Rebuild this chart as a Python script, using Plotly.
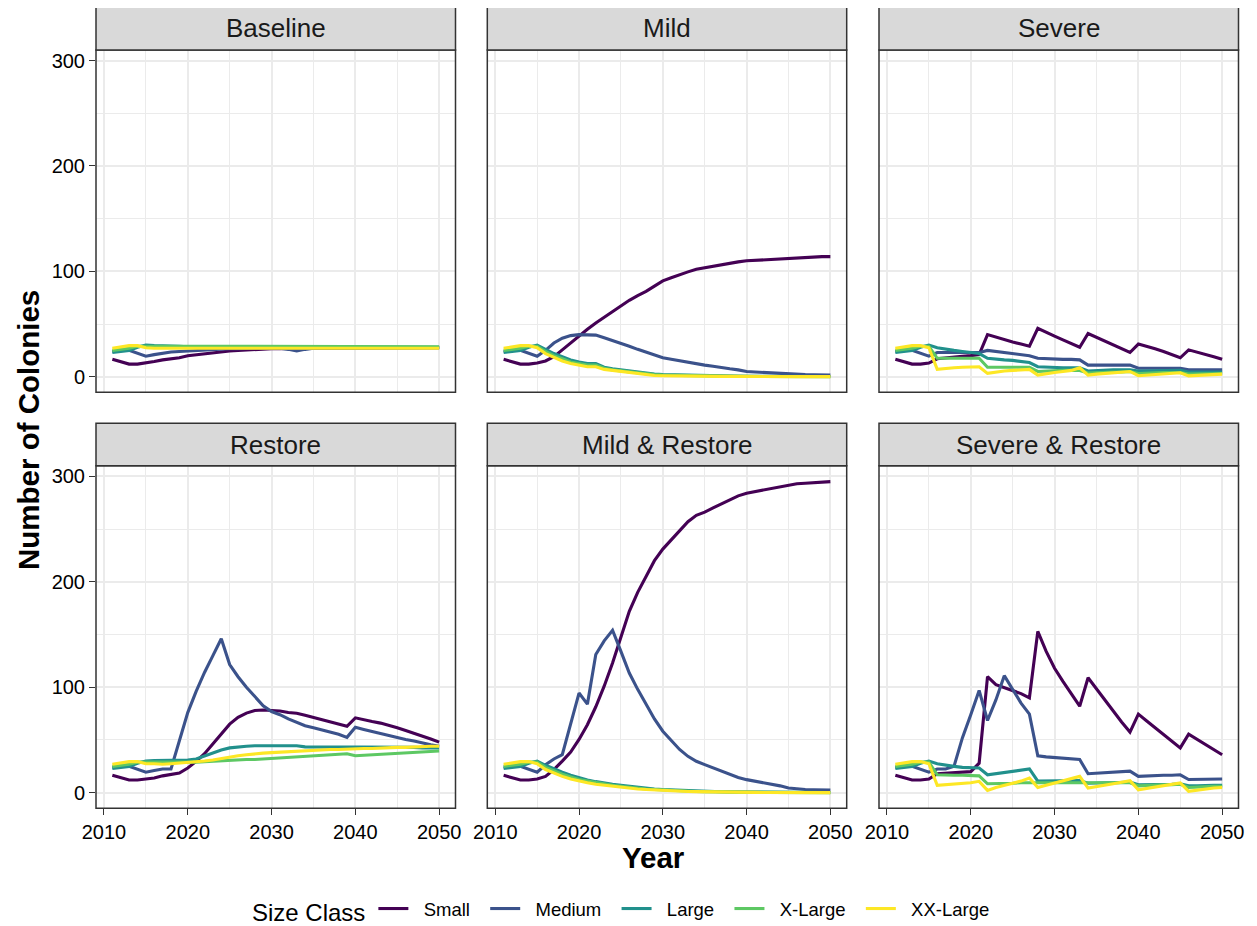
import plotly.graph_objects as go

years = list(range(2011, 2051))
size_classes = ["Small", "Medium", "Large", "X-Large", "XX-Large"]
colors = ["#440154", "#3B528B", "#21908C", "#5DC863", "#FDE725"]
scenarios = ["Baseline", "Mild", "Severe", "Restore", "Mild & Restore", "Severe & Restore"]

# ---------------- data ----------------
baseline_small = [16.5,14,12,12,13, 14.5,16,17,18,20, 21,22,23,24,24.5, 25,25.5,26,26,26.5,
                  26.5,27,27,27,27, 27,27,27,27,27.5, 27.5,27.5,27.5,27.5,27.5, 27.5,27.5,27.5,27.5,27.5]
baseline_medium = [24,25,25,22,19.5, 21,22.5,23.5,24,24.5, 25,25.5,26,26,26.5, 26.5,27,27,27,27,
                   27,26,24.5,26,27, 27,27,27,27,27.5, 27.5,27.5,27.5,27.5,27.5, 27.5,27.5,27.5,27.5,27.5]
baseline_large = [23,24,25,28,30, 29.5,29.5,29,29,28.5, 28.5,28.5,28.5,28.5,28, 28,28,28,28,28,
                  28,28,28,28,28, 28,28,28,28,28, 28,28,28,28,28, 28,28,28,28,28]
baseline_xlarge = [25,26,27,29,29, 29,29,28.5,28.5,28.5, 28.5,28.5,28.5,28.5,28.5, 28.5,28.5,28.5,28.5,28.5,
                   28.5,28.5,28.5,28.5,28.5, 28.5,28.5,28.5,28.5,28.5, 28.5,28.5,28.5,28.5,28.5, 28.5,28.5,28.5,28.5,28.5]
baseline_xxlarge = [27,28,29.5,29.5,27.5, 27,27,27,27,27, 27,27,27,27,27, 27,27,27,27,27,
                    27,27,27,27,27, 27,27,27,27,27, 27,27,27,27,27, 27,27,27,27,27]

mild_small = [16.5,14,12,12,13, 15,19,25.5,32,39, 45,51,56.5,62,67.5, 72.5,77,81,86,91,
              94,97,99.5,102,103.5, 105,106.5,107.5,109,110, 110.5,111,111.5,112,112.5, 113,113.5,113.5,114,114]
mild_medium = [24,25,25,22,19.5, 25,32,36.5,39,40, 40,39.5,37,34.5,32, 29,26,23.5,21,18,
               16.5,15,13.5,12,11, 10,8.5,7.5,6.5,5, 4.5,4,3.5,3,2.5, 2,2,1.8,1.6,1.5]
mild_large = [23,24,25,28,30, 26,22,19,16,14, 12.5,12.5,9,7.5,6.5, 5,4,3,2.5,2,
              1.8,1.5,1.3,1,1, 0.8,0.7,0.6,0.5,0.5, 0.4,0.4,0.3,0.3,0.3, 0.3,0.2,0.2,0.2,0.2]
mild_xlarge = [25,26,27,29,29, 24,20,17,14,12.5, 11,11,8,6.5,5.5, 4.5,3.5,2.5,2,1.5,
               1.3,1.1,1,0.8,0.7, 0.6,0.5,0.4,0.4,0.3, 0.3,0.3,0.2,0.2,0.2, 0.2,0.1,0.1,0.1,0.1]
mild_xxlarge = [27,28,29.5,29.5,27.5, 22,18.5,15,12.5,11, 9.5,9.5,7,6,5, 4,3,1.5,1.2,1,
                0.8,0.7,0.6,0.5,0.5, 0.4,0.3,0.3,0.2,0.2, 0.2,0.1,0.1,0.1,0.1, 0.1,0.1,0.1,0.1,0.1]

severe_small = [16.5,14,12,12,13, 17,18,19,19.5,20, 21,40,37.5,35.5,33, 31,29,46,42,38.5,
                35,31.5,28,41,37.5, 34,30,26.5,23,31, 29,26.5,24,21,18, 25.5,23.5,21,19,16.5]
severe_medium = [24,25,25,22,19.5, 23,23,23,23,23, 23,25,24,23,22, 21,20,17.5,17,17,
                 16.5,16.5,16,11,11, 11,11,11,11,8, 8,8,8,8,8, 6.5,6.5,6.5,6.5,6.5]
severe_large = [23,24,25,28,30, 27.5,26,25,24,23, 22,17.5,16.5,16,15.5, 14.5,13.5,9.5,9,9,
                8.5,8.5,8.5,5.5,6, 6,6.5,6.5,6.5,5.5, 5.5,5.5,6,6,6, 4.5,4.5,4.5,4.5,4.5]
severe_xlarge = [25,26,27,29,29, 17.5,17.5,17.5,17.5,17.5, 17.5,9,9,9,9, 9,9,5,5.5,6,
                 6,6,6,3.5,4, 4,4.5,4.5,5,3, 3.5,3.5,4,4,4, 2.5,2.5,3,3,3]
severe_xxlarge = [27,28,29.5,29.5,27.5, 7,8,8.5,9,9, 9.5,3.2,4.5,5.5,6, 6.5,7,1.6,3,4,
                  5,6,8.5,1.6,2.5, 3,3.5,4,5,1, 1.5,2,2.5,3,3.8, 0.8,1.2,1.7,2.1,2.5]

restore_small = [16.5,14,12,12,13, 14,16,17,18.7,23.4, 29.7,37,46.5,56,65, 71.5,75.5,78,78.5,78,
                 77.5,76,75.3,73.5,71.5, 69.5,67.5,65.5,63,71, 69,67.5,66,64,61.5, 59,56.5,54,51,48]
restore_medium = [24,25,25,22,19.5, 21,22.5,22.5,50,76, 96,114,130,146,121.5, 110,100,91.5,82.5,77,
                  74,70,67,63.5,61.5, 59.5,57.5,55.5,52.5,62, 60,58,56,54,52, 50.5,49,47,45.5,44]
restore_large = [23,24,25,28,30, 30.5,30.5,30.5,30.5,31, 32,35,38,40.5,42.5, 43.5,44,44.5,44.5,44.5,
                 44.5,44.5,44.5,43.5,43.5, 43.5,43.5,43.5,43.5,43.5, 43.5,43.5,43.5,43.5,43, 43,43,42.5,42.5,42.5]
restore_xlarge = [25,26,27,29,29, 28.5,28.5,28.5,28.5,28.5, 29,29.5,30,30.5,30.5, 31,31.5,31.5,32,32.5,
                  33,33.5,34,34.5,35, 35.5,36,36.5,37,35, 35.5,36,36.5,37,37, 37.5,38,38.5,39,39.5]
restore_xxlarge = [27,28,29.5,29.5,27.5, 27.5,27,27.5,28,28.5, 29,30,31,32.5,34, 35,36,37,37.5,38,
                   38.5,39,39.5,40,40, 40.5,41,41,41.5,41.5, 42,42,42.5,42.5,43, 43,43.5,43.5,44,44]

mildres_small = [16.5,14,12,12,13, 15.5,22,30,38.5,50.5, 64.5,81.5,101,123,147, 172,190,205.5,220,231,
                 239.5,248,257,263,266, 270,274,278,281.5,284, 285.5,287,289,290.5,292, 293,293.5,294,294.5,295]
mildres_medium = [24,25,25,22,19.5, 26.5,32,36,66,94.5, 84,131,144,154,134, 113.5,98,83.5,70,58.3,
                  49.7,41,34.5,29.8,26.6, 23.5,20.5,17.5,14.5,12.4, 11,9.5,8,6.5,4.4, 3.5,3,2.8,2.5,2.5]
mildres_large = [23,24,25,28,30, 26,22.5,19.5,16.5,14, 12,10.5,9,8,7, 6,5,4,3.5,3,
                 2.6,2.2,1.8,1.5,1.2, 1,0.9,0.8,0.7,0.6, 0.5,0.4,0.4,0.3,0.3, 0.3,0.2,0.2,0.2,0.2]
mildres_xlarge = [25,26,27,29,29, 24,20.5,17.5,15,12.5, 11,9.5,8,7,6, 5,4.2,3.5,3,2.5,
                  2.1,1.8,1.5,1.2,1, 0.8,0.7,0.6,0.5,0.4, 0.4,0.3,0.3,0.2,0.2, 0.2,0.2,0.1,0.1,0.1]
mildres_xxlarge = [27,28,29.5,29.5,27.5, 22,18.5,15.5,13,11, 9.5,8,7,6,5, 4,3.5,3,2.5,2,
                   1.7,1.4,1.2,1,0.8, 0.7,0.6,0.5,0.4,0.3, 0.3,0.2,0.2,0.2,0.1, 0.1,0.1,0.1,0.1,0.1]

sevres_small = [16.5,14,12,12,13, 18,18.5,19,19.5,20, 28,110,102.5,99.5,97, 94,90,153,134,118,
                105.5,93.5,82,109,98.5, 87.5,77,67,57.5,74.5, 68,61.5,55,48.5,42.5, 55.5,50.5,45.5,40.5,36]
sevres_medium = [24,25,25,22,19.5, 22.5,22.5,25,52,74, 97,68.5,88,111,98, 85,74.5,35,34,33.5,
                 33,32.5,31.5,18,18.5, 19,19.5,20,20.5,15.5, 16,16,16.5,16.5,17, 12.5,12.5,13,13,13]
sevres_large = [23,24,25,28,30, 27.5,26,25,24,23.5, 23.5,17,18,19,20, 21.5,22.5,11,11,11.5,
                11.5,11.5,11.5,9,9.5, 9.5,9.5,9.5,10,7.5, 7.5,8,8,8,8.5, 6.5,6.5,7,7,7]
sevres_xlarge = [25,26,27,29,29, 17,16.5,16.5,16.5,16.5, 16,8.5,8.5,9,9, 9.5,9.5,10,10,10,
                 10,10,10,9.5,9.5, 9.5,9.5,9.5,9.5,6.5, 7,7,7.5,7.5,8, 5,5.5,5.5,6,6]
sevres_xxlarge = [27,28,29.5,29.5,27.5, 7,7.5,8,9,9.5, 10.8,2.2,5,7,9, 11,14,5,7,9,
                  11,13,15.5,4.4,6, 7.5,8.5,10,11.4,2.8, 4,5.5,6.5,7.5,9.2, 1.3,2.5,3.5,4.5,5]

panel_data = {
    "Baseline": [baseline_small, baseline_medium, baseline_large, baseline_xlarge, baseline_xxlarge],
    "Mild": [mild_small, mild_medium, mild_large, mild_xlarge, mild_xxlarge],
    "Severe": [severe_small, severe_medium, severe_large, severe_xlarge, severe_xxlarge],
    "Restore": [restore_small, restore_medium, restore_large, restore_xlarge, restore_xxlarge],
    "Mild & Restore": [mildres_small, mildres_medium, mildres_large, mildres_xlarge, mildres_xxlarge],
    "Severe & Restore": [sevres_small, sevres_medium, sevres_large, sevres_xlarge, sevres_xxlarge],
}

x_ticks = [2010, 2020, 2030, 2040, 2050]
y_ticks = [0, 100, 200, 300]

# ---------------- layout geometry (page pixels; page body has an 8px margin) ----------------
OFF = 8
W, H = 1257 - OFF, 926 - OFF
FONT = "Liberation Sans, Arial, sans-serif"
col_px = [(96, 455.5), (487.3, 846.7), (879, 1238.5)]
row_px = [(50, 392.3), (465.7, 808.3)]
strip_px = [(6.7, 50), (423.3, 465.7)]

def fx(p):
    return (p - OFF) / W

def fy(p):
    return 1 - (p - OFF) / H

fig = go.Figure()
layout = dict(
    width=W, height=H, margin=dict(l=0, r=0, t=0, b=0, pad=0, autoexpand=False),
    paper_bgcolor="white", plot_bgcolor="white",
    font=dict(family=FONT, color="#000000"),
    showlegend=True,
)
shapes = []
annotations = []
NB = "\u00a0\u00a0"

for i, scen in enumerate(scenarios):
    r, c = divmod(i, 3)
    n = i + 1
    xa = "xaxis" if n == 1 else f"xaxis{n}"
    ya = "yaxis" if n == 1 else f"yaxis{n}"
    xref = "x" if n == 1 else f"x{n}"
    yref = "y" if n == 1 else f"y{n}"
    for k, sc in enumerate(size_classes):
        fig.add_trace(go.Scatter(
            x=years, y=panel_data[scen][k], mode="lines",
            line=dict(color=colors[k], width=3.1),
            name=NB + sc + NB, legendgroup=sc, showlegend=(i == 0),
            xaxis=xref, yaxis=yref,
        ))
    bottom = (r == 1)
    left = (c == 0)
    layout[xa] = dict(
        domain=[fx(col_px[c][0]), fx(col_px[c][1])], anchor=yref,
        range=[2009.05, 2051.95], tickvals=x_ticks,
        showgrid=True, gridcolor="#EBEBEB", gridwidth=1.8,
        minor=dict(showgrid=True, gridcolor="#EBEBEB", gridwidth=0.9, dtick=5, tick0=2010),
        zeroline=False, showline=False, automargin=False,
        showticklabels=bottom, ticks="outside" if bottom else "",
        ticklen=6, tickwidth=1.4, tickcolor="#333333",
        tickfont=dict(size=20, family=FONT, color="#000000"),
    )
    layout[ya] = dict(
        domain=[fy(row_px[r][1]), fy(row_px[r][0])], anchor=xref,
        range=[-14.77, 310.07], tickvals=y_ticks,
        showgrid=True, gridcolor="#EBEBEB", gridwidth=1.8,
        minor=dict(showgrid=True, gridcolor="#EBEBEB", gridwidth=0.9, dtick=50, tick0=0),
        zeroline=False, showline=False, automargin=False,
        showticklabels=left, ticks="outside" if left else "",
        ticklen=6, tickwidth=1.4, tickcolor="#333333",
        tickfont=dict(size=20, family=FONT, color="#000000"),
    )
    shapes.append(dict(type="rect", xref="paper", yref="paper", layer="above",
                       x0=fx(col_px[c][0]), x1=fx(col_px[c][1]),
                       y0=fy(row_px[r][1]), y1=fy(row_px[r][0]),
                       line=dict(color="#333333", width=1.5), fillcolor="rgba(0,0,0,0)"))
    shapes.append(dict(type="rect", xref="paper", yref="paper", layer="above",
                       x0=fx(col_px[c][0]), x1=fx(col_px[c][1]),
                       y0=fy(strip_px[r][1]), y1=fy(strip_px[r][0]),
                       line=dict(color="#333333", width=1.5), fillcolor="#D9D9D9"))
    annotations.append(dict(text=scen, xref="paper", yref="paper", showarrow=False,
                            x=fx((col_px[c][0] + col_px[c][1]) / 2),
                            y=fy((strip_px[r][0] + strip_px[r][1]) / 2),
                            xanchor="center", yanchor="middle",
                            font=dict(size=26, family=FONT, color="#1A1A1A")))

annotations.append(dict(text="<b>Year</b>", xref="paper", yref="paper", showarrow=False,
                        x=fx(653), y=fy(857), xanchor="center", yanchor="middle",
                        font=dict(size=29.5, family=FONT, color="#000000")))
annotations.append(dict(text="<b>Number of Colonies</b>", xref="paper", yref="paper", showarrow=False,
                        x=fx(28), y=fy(430), xanchor="center", yanchor="middle", textangle=-90,
                        font=dict(size=29.5, family=FONT, color="#000000")))

layout["shapes"] = shapes
layout["annotations"] = annotations
layout["legend"] = dict(
    orientation="h", x=fx(250), xanchor="left", y=fy(911), yanchor="middle",
    title=dict(text="Size Class", side="left", font=dict(size=24, family=FONT, color="#000000")),
    font=dict(size=18.5, family=FONT, color="#000000"),
    itemwidth=30, bgcolor="rgba(0,0,0,0)",
)
fig.update_layout(**layout)
fig.write_html("out.html")
